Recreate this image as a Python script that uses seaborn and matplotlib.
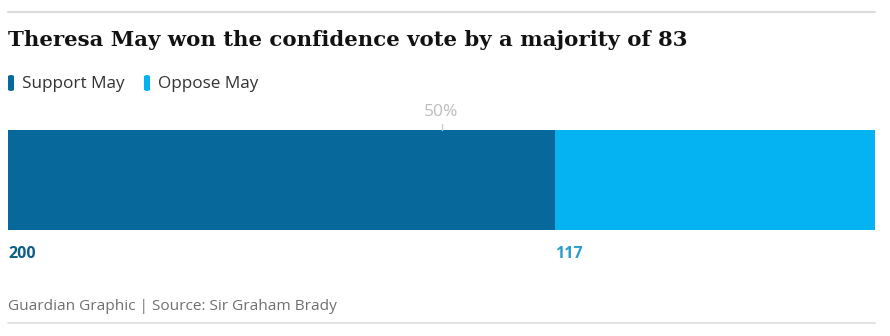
import matplotlib
matplotlib.use("Agg")
import matplotlib.pyplot as plt
import seaborn as sns
import pandas as pd
from matplotlib.lines import Line2D
from matplotlib.patches import FancyBboxPatch

categories = ["Support May", "Oppose May"]
votes = [200, 117]
colors = ["#07699b", "#05b3f2"]
label_colors = ["#0b5f8a", "#2a9fcc"]
title = "Theresa May won the confidence vote by a majority of 83"
footer = "Guardian Graphic | Source: Sir Graham Brady"

sns.set_style("white")
plt.rcParams['font.family'] = ['Open Sans', 'DejaVu Sans']

total = sum(votes)
df_total = pd.DataFrame({"row": ["vote"], "value": [total]})
df_support = pd.DataFrame({"row": ["vote"], "value": [votes[0]]})

fig = plt.figure(figsize=(8.9, 3.36), dpi=100)
ax = fig.add_axes([8/890, 1 - 230/336, 867/890, 100/336])

sns.barplot(data=df_total, x="value", y="row", orient="h", color=colors[1],
            width=1.0, saturation=1, ax=ax, edgecolor="none")
sns.barplot(data=df_support, x="value", y="row", orient="h", color=colors[0],
            width=1.0, saturation=1, ax=ax, edgecolor="none")
ax.set_xlim(0, total)
ax.set_ylim(0.5, -0.5)
ax.set_axis_off()

# 50% marker
ax.plot([total / 2, total / 2], [-0.5, -0.56], color="#cccccc", lw=1, clip_on=False)
ax.text(total / 2, -0.6, "50%", ha="center", va="bottom", fontsize=12.5,
        color="#bdbdbd", clip_on=False)

# value labels
starts = [0, votes[0]]
for s, v, c in zip(starts, votes, label_colors):
    ax.text(s, 0.74, str(v), ha="left", va="center", fontsize=11.5,
            fontweight="bold", color=c, clip_on=False)

# top and bottom rules
fig.add_artist(Line2D([8/890, 875/890], [1 - 12/336, 1 - 12/336], color="#dcdcdc", lw=1.5))
fig.add_artist(Line2D([8/890, 875/890], [1 - 323/336, 1 - 323/336], color="#dcdcdc", lw=1.2))

fig.text(8/890, 1 - 40/336, title, ha="left", va="center", fontsize=15.3,
         fontweight="bold", family=["DejaVu Serif"], color="#121212")

# legend
marker_x = [8, 144]
for mx, cat, c in zip(marker_x, categories, colors):
    fig.patches.append(FancyBboxPatch(
        (mx/890, 1 - 91/336), 6/890, 16/336, boxstyle="round,pad=0,rounding_size=0.004",
        transform=fig.transFigure, facecolor=c, edgecolor="none"))
    fig.text((mx + 14)/890, 1 - 84/336, cat, ha="left", va="center",
             fontsize=12.3, color="#333333")

fig.text(8/890, 1 - 307/336, footer, ha="left", va="center", fontsize=11.1,
         color="#707070")

fig.savefig("out.png", dpi=100)
